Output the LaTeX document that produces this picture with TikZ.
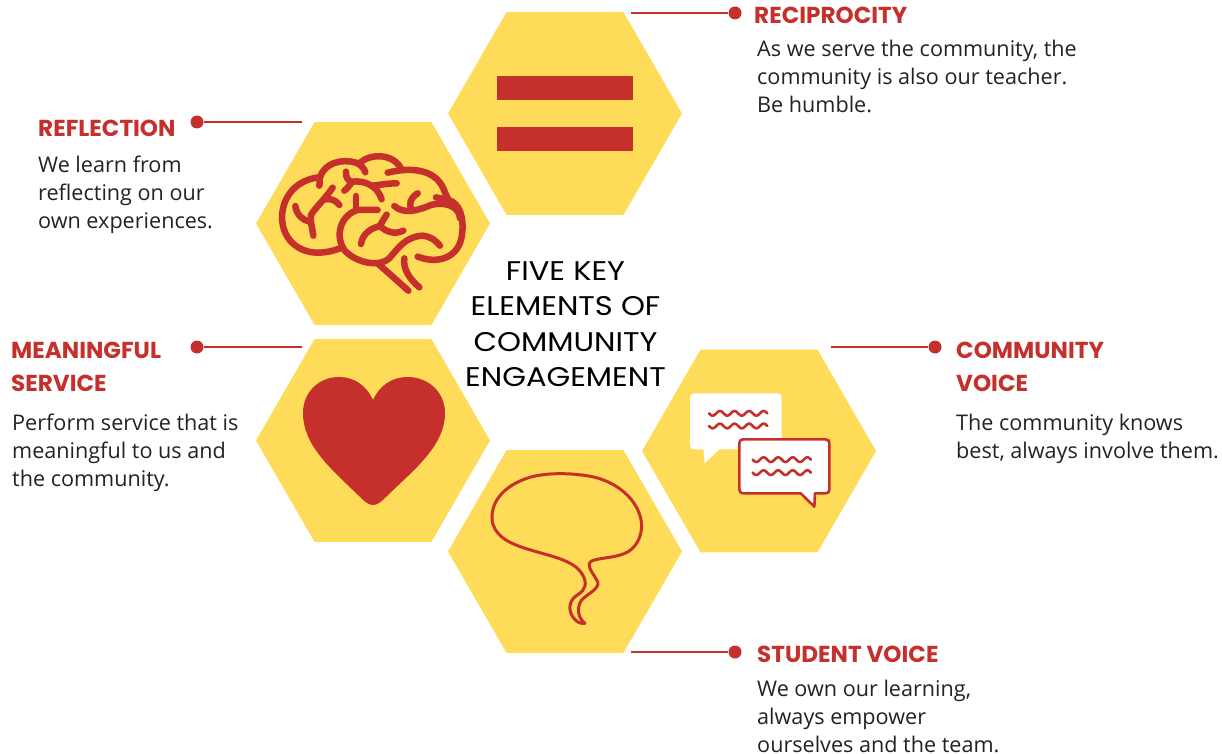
\documentclass[tikz,border=0pt]{standalone}
\usepackage{fontspec}
\setmainfont{Open Sans}
\newfontfamily\headfont{Poppins}
\newfontfamily\titlefont[FakeStretch=1.13]{Poppins}
\usetikzlibrary{shapes.geometric}
\definecolor{hexyellow}{HTML}{FEDB59}
\definecolor{accentred}{HTML}{C5302C}
\definecolor{bodyink}{HTML}{222222}
\tikzset{
  hexcell/.style={regular polygon,regular polygon sides=6,minimum size=234pt,inner sep=0pt,fill=hexyellow,draw=none},
  leaddot/.style={circle,fill=accentred,draw=none,minimum size=13pt,inner sep=0pt},
  leadline/.style={draw=accentred,line width=2pt},
  headtext/.style={anchor=north west,inner sep=0pt,align=left,text=accentred,font=\headfont\bfseries\fontsize{23.1}{33}\selectfont},
  bodytext/.style={anchor=north west,inner sep=0pt,align=left,text=bodyink,font=\fontsize{21.6}{28}\selectfont},
  centertext/.style={inner sep=0pt,align=center,text=black,font=\titlefont\fontsize{27}{35.5}\selectfont},
  iconline/.style={draw=accentred,line cap=round,line join=round},
}
\begin{document}
\begin{tikzpicture}[x=1pt,y=-1pt]
\useasboundingbox (0,0) rectangle (1222,754);
% hexagons
\node[hexcell] (hexa) at (565,113.5) {};
\node[hexcell] (hexb) at (373,223.5) {};
\node[hexcell] (hexc) at (373,440.5) {};
\node[hexcell] (hexd) at (565,551.5) {};
\node[hexcell] (hexe) at (759,451) {};
% equals icon
\node[fill=accentred,minimum width=136pt,minimum height=24pt,inner sep=0pt] (eqa) at (565,88) {};
\node[fill=accentred,minimum width=136pt,minimum height=24pt,inner sep=0pt] (eqb) at (565,139) {};
% brain
\begin{scope}[shift={(256,120)},x=0.3333pt,y=-0.3333pt,iconline,line width=6.5pt]
\draw (190,197) .. controls (192,185) and (192,178) .. (188,172) .. controls (120,180) and (80,230) .. (78,290) .. controls (78,360) and (130,400) .. (190,398) .. controls (215,397) and (235,392) .. (252,385);
\draw (192,172) .. controls (205,130) and (255,115) .. (300,128) .. controls (315,135) and (325,145) .. (328,157);
\draw (312,128) .. controls (345,100) and (410,100) .. (435,145);
\draw (395,158) .. controls (460,142) and (535,145) .. (562,205) .. controls (570,225) and (575,235) .. (578,240) .. controls (610,250) and (625,290) .. (618,345) .. controls (610,410) and (550,435) .. (485,410);
\draw (365,270) -- (305,270) .. controls (255,285) and (235,345) .. (265,390) .. controls (295,425) and (365,445) .. (400,415) .. controls (430,380) and (450,350) .. (500,347) .. controls (525,350) and (540,362) .. (552,377);
\draw (415,258) .. controls (445,285) and (490,270) .. (525,255) .. controls (560,245) and (610,255) .. (612,295);
\draw (485,220) .. controls (462,235) and (458,250) .. (467,270);
\draw (540,232) -- (578,240);
\draw (365,430) -- (457,512);
\draw (445,415) .. controls (440,450) and (465,480) .. (490,502);
\draw (118,258) .. controls (122,285) and (140,300) .. (160,305);
\draw (172,347) .. controls (168,320) and (162,300) .. (165,285) .. controls (180,260) and (205,240) .. (230,203);
\draw (208,238) .. controls (222,235) and (240,240) .. (250,255);
\draw (270,155) .. controls (268,170) and (275,180) .. (285,185);
\draw (265,212) .. controls (275,205) and (282,195) .. (287,185) .. controls (330,180) and (365,200) .. (377,238);
\draw (350,197) .. controls (370,195) and (395,190) .. (422,190);
\draw (300,228) -- (300,270);
\draw (315,372) .. controls (320,340) and (345,325) .. (372,318) .. controls (378,305) and (385,295) .. (392,284);
\draw (372,318) .. controls (390,335) and (415,345) .. (442,332);
\end{scope}
% heart
\fill[accentred] (373,505) .. controls (368,505) and (364,501) .. (358,495) .. controls (330,468) and (303,445) .. (303,413) .. controls (303,392) and (319,377) .. (339,377) .. controls (354,377) and (366,385) .. (373,400) .. controls (380,385) and (392,377) .. (408,377) .. controls (428,377) and (445,392) .. (445,413) .. controls (445,445) and (416,468) .. (388,495) .. controls (382,501) and (378,505) .. (373,505) -- cycle;
% chat bubbles
\begin{scope}[shift={(640,350)},x=0.3333pt,y=-0.3333pt]
\fill[white,rounded corners=4pt] (150,130) -- (425,130) -- (425,298) -- (150,298) -- cycle;
\fill[white,line join=round] (190,296) -- (194,340) -- (240,296) -- cycle;
\draw[iconline,line width=2.6pt] plot[domain=207:382,samples=60] (\x,{190+7*sin(8.23*(\x-207))});
\draw[iconline,line width=2.6pt] plot[domain=207:382,samples=60] (\x,{228+7*sin(8.23*(\x-207))});
\draw[iconline,fill=white,line width=2.6pt] (310,268) -- (556,268) .. controls (564,268) and (568,272) .. (568,280) -- (568,420) .. controls (568,426) and (564,430) .. (556,430) -- (525,430) -- (523,470) -- (482,430) -- (310,430) .. controls (302,430) and (298,426) .. (298,418) -- (298,280) .. controls (298,272) and (302,268) .. (310,268) -- cycle;
\draw[iconline,line width=2.6pt] plot[domain=338:513,samples=60] (\x,{329+7*sin(8.23*(\x-338))});
\draw[iconline,line width=2.6pt] plot[domain=338:513,samples=60] (\x,{368+7*sin(8.23*(\x-338))});
\end{scope}
% speech outline
\begin{scope}[shift={(450,450)},x=0.3333pt,y=-0.3333pt]
\draw[iconline,line width=3pt] (405,520) .. controls (385,505) and (378,475) .. (395,450) .. controls (415,430) and (450,415) .. (443,395) .. controls (430,370) and (405,345) .. (425,333) .. controls (450,322) and (500,325) .. (535,305) .. controls (565,285) and (578,250) .. (574,215) .. controls (565,150) and (500,90) .. (410,77) .. controls (350,68) and (280,68) .. (230,85) .. controls (165,108) and (125,150) .. (126,205) .. controls (128,255) and (175,280) .. (235,298) .. controls (300,318) and (370,330) .. (395,370) .. controls (415,400) and (405,420) .. (385,433) .. controls (355,450) and (355,480) .. (368,500) .. controls (378,515) and (390,522) .. (405,520) -- cycle;
\end{scope}
% connectors
\node[leaddot] (dota) at (735,13) {};
\coordinate (enda) at (631,13);
\draw[leadline] (enda) -- (dota);
\node[leaddot] (dotb) at (197,122) {};
\coordinate (endb) at (302,122);
\draw[leadline] (endb) -- (dotb);
\node[leaddot] (dotc) at (197,347) {};
\coordinate (endc) at (302,347);
\draw[leadline] (endc) -- (dotc);
\node[leaddot] (dote) at (935,347) {};
\coordinate (ende) at (831,347);
\draw[leadline] (ende) -- (dote);
\node[leaddot] (dotd) at (735,652) {};
\coordinate (endd) at (631,652);
\draw[leadline] (endd) -- (dotd);
% centre text
\node[centertext] (title) at (565.5,324) {FIVE KEY\\ELEMENTS OF\\COMMUNITY\\ENGAGEMENT};
% labels
\node[headtext] (heada) at (754,6.5) {RECIPROCITY};
\node[bodytext] (bodya) at (757,40) {As we serve the community, the\\community is also our teacher.\\Be humble.};
\node[headtext] (headb) at (38,119.5) {REFLECTION};
\node[bodytext] (bodyb) at (38,156) {We learn from\\reflecting on our\\own experiences.};
\node[headtext] (headc) at (11,341.5) {MEANINGFUL\\SERVICE};
\node[bodytext] (bodyc) at (12,414) {Perform service that is\\meaningful to us and\\the community.};
\node[headtext] (heade) at (956,341.5) {COMMUNITY\\VOICE};
\node[bodytext] (bodye) at (956,414) {The community knows\\best, always involve them.};
\node[headtext] (headd) at (757,645.5) {STUDENT VOICE};
\node[bodytext] (bodyd) at (757,679.5) {We own our learning,\\always empower\\ourselves and the team.};
\end{tikzpicture}
\end{document}
